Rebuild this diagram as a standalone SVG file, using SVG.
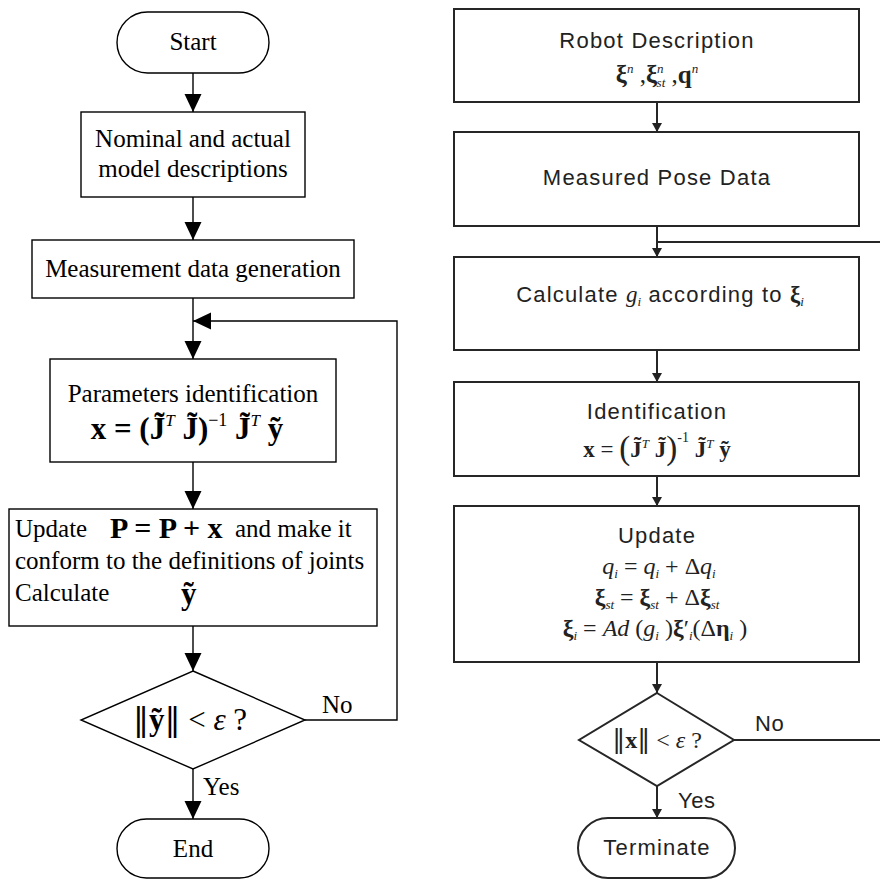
<svg xmlns="http://www.w3.org/2000/svg" width="880" height="879" viewBox="0 0 880 879">
<style>
.bg{fill:#fff}
.ln{fill:none;stroke:#000;stroke-width:1.4}
.lnr{fill:none;stroke:#262626;stroke-width:2}
.box{fill:#fff;stroke:#000;stroke-width:1.4}
.boxr{fill:#fff;stroke:#262626;stroke-width:2}
.t{font-family:"Liberation Serif","Times New Roman",serif;font-size:25px;fill:#000}
.c{text-anchor:middle}
.s{font-family:"Liberation Sans",Arial,sans-serif;font-size:22px;letter-spacing:1.2px;fill:#222}
.m{font-family:"Liberation Serif","Times New Roman",serif;fill:#222}
.b{font-weight:bold;font-style:normal}
.i{font-style:italic;font-weight:normal}
.n{font-style:normal;font-weight:normal}
.dv{font-family:"DejaVu Serif",serif;font-weight:normal;font-style:normal}
</style>
<defs>
<marker id="ah" markerUnits="userSpaceOnUse" markerWidth="19" markerHeight="18" refX="18" refY="8.5" orient="auto">
<path d="M0,0 L18,8.5 L0,17 z" fill="#000"/>
</marker>
<marker id="ahr" markerUnits="userSpaceOnUse" markerWidth="10" markerHeight="11" refX="9" refY="5" orient="auto">
<path d="M0,0 L9,5 L0,10 z" fill="#222"/>
</marker>
</defs>
<rect class="bg" x="0" y="0" width="880" height="879"/>

<g id="connectors">
<path class="ln" d="M193,73 V112" marker-end="url(#ah)"/>
<path class="ln" d="M193,197 V240" marker-end="url(#ah)"/>
<path class="ln" d="M193,298 V359" marker-end="url(#ah)"/>
<path class="ln" d="M305,720 H397 V321 H193" marker-end="url(#ah)"/>
<path class="ln" d="M193,462 V509" marker-end="url(#ah)"/>
<path class="ln" d="M193,626 V671" marker-end="url(#ah)"/>
<path class="ln" d="M193,769 V819" marker-end="url(#ah)"/>

<path class="lnr" d="M657,102 V132" marker-end="url(#ahr)"/>
<path class="lnr" d="M657,226 V257" marker-end="url(#ahr)"/>
<path class="lnr" d="M657,350 V382" marker-end="url(#ahr)"/>
<path class="lnr" d="M657,476 V506" marker-end="url(#ahr)"/>
<path class="lnr" d="M657,662 V693" marker-end="url(#ahr)"/>
<path class="lnr" d="M657,786 V818" marker-end="url(#ahr)"/>
<path class="lnr" d="M734,740 H884 V242 H657"/>
</g>

<g id="start">
<rect class="box" x="117" y="12" width="152" height="61" rx="30.5" ry="30.5"/>
<text class="t c" x="193" y="50">Start</text>
</g>
<g id="models">
<rect class="box" x="81" y="112" width="224" height="85"/>
<text class="t c" x="193" y="147">Nominal and actual</text>
<text class="t c" x="193" y="177">model descriptions</text>
</g>
<g id="measgen">
<rect class="box" x="32" y="240" width="322" height="58"/>
<text class="t c" x="193" y="277">Measurement data generation</text>
</g>
<g id="paramid">
<rect class="box" x="50" y="359" width="286" height="103"/>
<text class="t c" x="193" y="402">Parameters identification</text>
<text class="t c b" x="187" y="439" style="font-size:31px">x = (J&#x303;<tspan class="i" font-size="17" dy="-13">T</tspan><tspan dy="13"> J&#x303;)</tspan><tspan class="n" font-size="18" dy="-13">−1</tspan><tspan dy="13"> J&#x303;</tspan><tspan class="i" font-size="17" dy="-13">T</tspan><tspan dy="13"> y&#x303;</tspan></text>
</g>
<g id="update">
<rect class="box" x="9" y="509" width="368" height="117"/>
<text class="t" x="15" y="537">Update</text>
<text class="t b" x="110" y="538" style="font-size:30px">P = P + x</text>
<text class="t" x="235" y="537">and make it</text>
<text class="t" x="15" y="569">conform to the definitions of joints</text>
<text class="t" x="15" y="601">Calculate</text>
<text class="t b" x="181" y="604" style="font-size:31px">y&#x303;</text>
</g>
<g id="check">
<path class="box" d="M193,671 L305,720 L193,769 L81,720 z"/>
<text class="t c" x="190" y="730" style="font-size:31px"><tspan class="dv" font-size="32">‖</tspan><tspan class="b">y&#x303;</tspan><tspan class="dv" font-size="32">‖</tspan> &lt; <tspan class="i">ε</tspan> ?</text>
<text class="t" x="322" y="713">No</text>
<text class="t" x="203" y="795">Yes</text>
</g>
<g id="end">
<rect class="box" x="117" y="819" width="152" height="59" rx="29.5" ry="29.5"/>
<text class="t c" x="193" y="857">End</text>
</g>

<g id="robotdesc">
<rect class="boxr" x="454" y="9" width="405" height="93"/>
<text class="s c" x="657" y="48">Robot Description</text>
<text class="m c" x="657" y="83" font-size="25"><tspan class="b">ξ</tspan><tspan class="i" font-size="13" dy="-10">n</tspan><tspan dy="10"> ,</tspan><tspan class="b">ξ</tspan><tspan class="i" font-size="13" dy="-10">n</tspan><tspan class="i" font-size="13" dx="-7" dy="14">st</tspan><tspan dy="-4"> ,</tspan><tspan class="b">q</tspan><tspan class="i" font-size="13" dy="-10">n</tspan></text>
</g>
<g id="measpose">
<rect class="boxr" x="454" y="132" width="405" height="94"/>
<text class="s c" x="657" y="185">Measured Pose Data</text>
</g>
<g id="calcg">
<rect class="boxr" x="454" y="257" width="405" height="93"/>
<text class="s c" x="660" y="302">Calculate <tspan class="m i" font-size="23" letter-spacing="0">g</tspan><tspan class="m i" font-size="13" dy="4" letter-spacing="0">i</tspan><tspan dy="-4"> according to </tspan><tspan class="m b" font-size="23" letter-spacing="0">ξ</tspan><tspan class="m i" font-size="13" dy="4" letter-spacing="0">i</tspan></text>
</g>
<g id="ident">
<rect class="boxr" x="454" y="382" width="405" height="94"/>
<text class="s c" x="657" y="419">Identification</text>
<text class="m c" x="657" y="457" font-size="23"><tspan class="b">x</tspan> = <tspan font-size="33" dy="2">(</tspan><tspan class="b" dy="-2">J&#x303;</tspan><tspan class="i" font-size="13" dy="-9">T</tspan><tspan class="b" dy="9"> J&#x303;</tspan><tspan font-size="33" dy="2">)</tspan><tspan font-size="14" dy="-17">-1</tspan><tspan class="b" dy="15"> J&#x303;</tspan><tspan class="i" font-size="13" dy="-9">T</tspan><tspan class="b" dy="9"> y&#x303;</tspan></text>
</g>
<g id="updater">
<rect class="boxr" x="454" y="506" width="405" height="156"/>
<text class="s c" x="657" y="543">Update</text>
<text class="m c" x="659" y="574" font-size="24"><tspan class="i">q</tspan><tspan class="i" font-size="13" dy="4">i</tspan><tspan dy="-4"> = </tspan><tspan class="i">q</tspan><tspan class="i" font-size="13" dy="4">i</tspan><tspan dy="-4"> + Δ</tspan><tspan class="i">q</tspan><tspan class="i" font-size="13" dy="4">i</tspan></text>
<text class="m c" x="657" y="605" font-size="24"><tspan class="b">ξ</tspan><tspan class="i" font-size="13" dy="4">st</tspan><tspan dy="-4"> = </tspan><tspan class="b">ξ</tspan><tspan class="i" font-size="13" dy="4">st</tspan><tspan dy="-4"> + Δ</tspan><tspan class="b">ξ</tspan><tspan class="i" font-size="13" dy="4">st</tspan></text>
<text class="m c" x="655" y="636" font-size="24"><tspan class="b">ξ</tspan><tspan class="i" font-size="13" dy="4">i</tspan><tspan dy="-4"> = </tspan><tspan class="i">Ad</tspan> (<tspan class="i">g</tspan><tspan class="i" font-size="13" dy="4">i</tspan><tspan dy="-4"> )</tspan><tspan class="b">ξ</tspan><tspan class="n">′</tspan><tspan class="i" font-size="13" dy="4">i</tspan><tspan dy="-4">(Δ</tspan><tspan class="b">η</tspan><tspan class="i" font-size="13" dy="4">i</tspan><tspan dy="-4"> )</tspan></text>
</g>
<g id="checkr">
<path class="boxr" d="M657,693 L734,740 L657,786 L579,740 z"/>
<text class="m c" x="657" y="748" font-size="24"><tspan class="dv" font-size="26">‖</tspan><tspan class="b">x</tspan><tspan class="dv" font-size="26">‖</tspan> &lt; <tspan class="i">ε</tspan> ?</text>
<text class="s" x="755" y="731" style="letter-spacing:0.5px">No</text>
<text class="s" x="678" y="808" style="letter-spacing:0.5px">Yes</text>
</g>
<g id="terminate">
<rect class="boxr" x="578" y="818" width="157" height="60" rx="30" ry="30"/>
<text class="s c" x="657" y="855">Terminate</text>
</g>
</svg>
